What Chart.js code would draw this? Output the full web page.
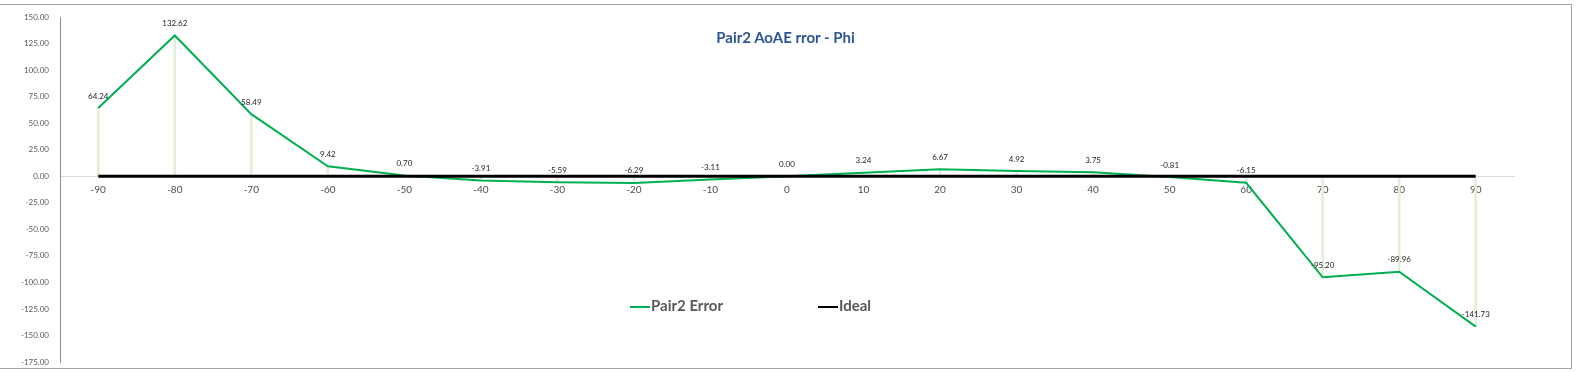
<!DOCTYPE html>
<html>
<head>
<meta charset="utf-8">
<script src="https://cdn.jsdelivr.net/npm/chart.js@4.4.0/dist/chart.umd.min.js"></script>
<style>
  html, body { margin: 0; padding: 0; background: #fff; }
  #wrap { position: relative; width: 1576px; height: 372px; overflow: hidden; }
  #frame { position: absolute; left: -1px; top: 4px; width: 1571px; height: 363px; border: 1px solid #a6a6a6; }
  #myChart { position: absolute; left: 0; top: 0; }
  .title { position: absolute; left: 0; width: 1571px; top: 28px; text-align: center;
    font: bold 15px Lato, "Open Sans", sans-serif; color: #2f5597; }
  .leg { position: absolute; top: 296px; font: bold 15px Lato, "Open Sans", sans-serif; color: #595959; }
  .leg span { display: inline-block; width: 20px; height: 2px; vertical-align: middle; margin-right: 1px; }
</style>
</head>
<body>
<div id="wrap">
  <div id="frame"></div>
  <canvas id="myChart" width="1576" height="372"></canvas>
  <div class="title">Pair2 AoAE rror - Phi</div>
  <div class="leg" style="left:630px"><span style="background:#00b050"></span>Pair2 Error</div>
  <div class="leg" style="left:818px"><span style="background:#000"></span>Ideal</div>
</div>
<script>
// angoli (gradi) e errore misurato
var angoli = [-90, -80, -70, -60, -50, -40, -30, -20, -10, 0, 10, 20, 30, 40, 50, 60, 70, 80, 90]
var errore = [64.24, 132.62, 58.49, 9.42, 0.70, -3.91, -5.59, -6.29, -3.11, 0.00, 3.24, 6.67, 4.92, 3.75, -0.81, -6.15, -95.20, -89.96, -141.73]
var ideale = [0, 0, 0, 0, 0, 0, 0, 0, 0, 0, 0, 0, 0, 0, 0, 0, 0, 0, 0]

var ctx = document.getElementById('myChart')

// etichette sopra i punti
const etichette = {
    id: 'etichette',
    afterDatasetsDraw(chart) {
        const c = chart.ctx
        const meta = chart.getDatasetMeta(1)
        c.save()
        c.font = '8px Lato, "Open Sans", sans-serif'
        c.fillStyle = '#262626'
        c.textAlign = 'center'
        c.textBaseline = 'middle'
        meta.data.forEach((p, i) => {
            c.fillText(errore[i].toFixed(2), p.x, p.y - 12)
        })
        c.restore()
    }
}

new Chart(ctx, {
    data: {
        labels: angoli,
        datasets: [{
            type: 'bar',
            label: 'drop',
            data: errore,
            backgroundColor: '#e2efda',
            barThickness: 2,
            order: 3
        }, {
            type: 'line',
            label: 'Pair2 Error',
            data: errore,
            borderColor: '#00b050',
            borderWidth: 2,
            pointRadius: 0,
            tension: 0,
            order: 2
        }, {
            type: 'line',
            label: 'Ideal',
            data: ideale,
            borderColor: '#000000',
            borderWidth: 3,
            pointRadius: 0,
            order: 1
        }]
    },
    options: {
        responsive: false,
        animation: false,
        layout: { padding: { left: 0, top: 17, right: 62, bottom: 10 } },
        plugins: { legend: { display: false }, tooltip: { enabled: false } },
        scales: {
            x: {
                position: { y: 0 },
                offset: true,
                afterFit(scale) { scale.height = 0 },
                grid: { display: false, drawTicks: false },
                border: { display: true, color: '#d9d9d9', width: 1 },
                ticks: { color: '#4d4d4d', padding: 8, font: { size: 10, family: 'Lato, "Open Sans", sans-serif' } }
            },
            y: {
                min: -175,
                max: 150,
                afterFit(scale) { scale.width = 60 },
                grid: { display: false, drawTicks: true, tickLength: 11 },
                border: { display: true, color: '#8c8c8c', width: 1 },
                ticks: {
                    stepSize: 25,
                    color: '#595959',
                    padding: 0,
                    font: { size: 8, family: 'Lato, "Open Sans", sans-serif' },
                    callback: v => v.toFixed(2)
                }
            }
        }
    },
    plugins: [etichette]
})
</script>
</body>
</html>
